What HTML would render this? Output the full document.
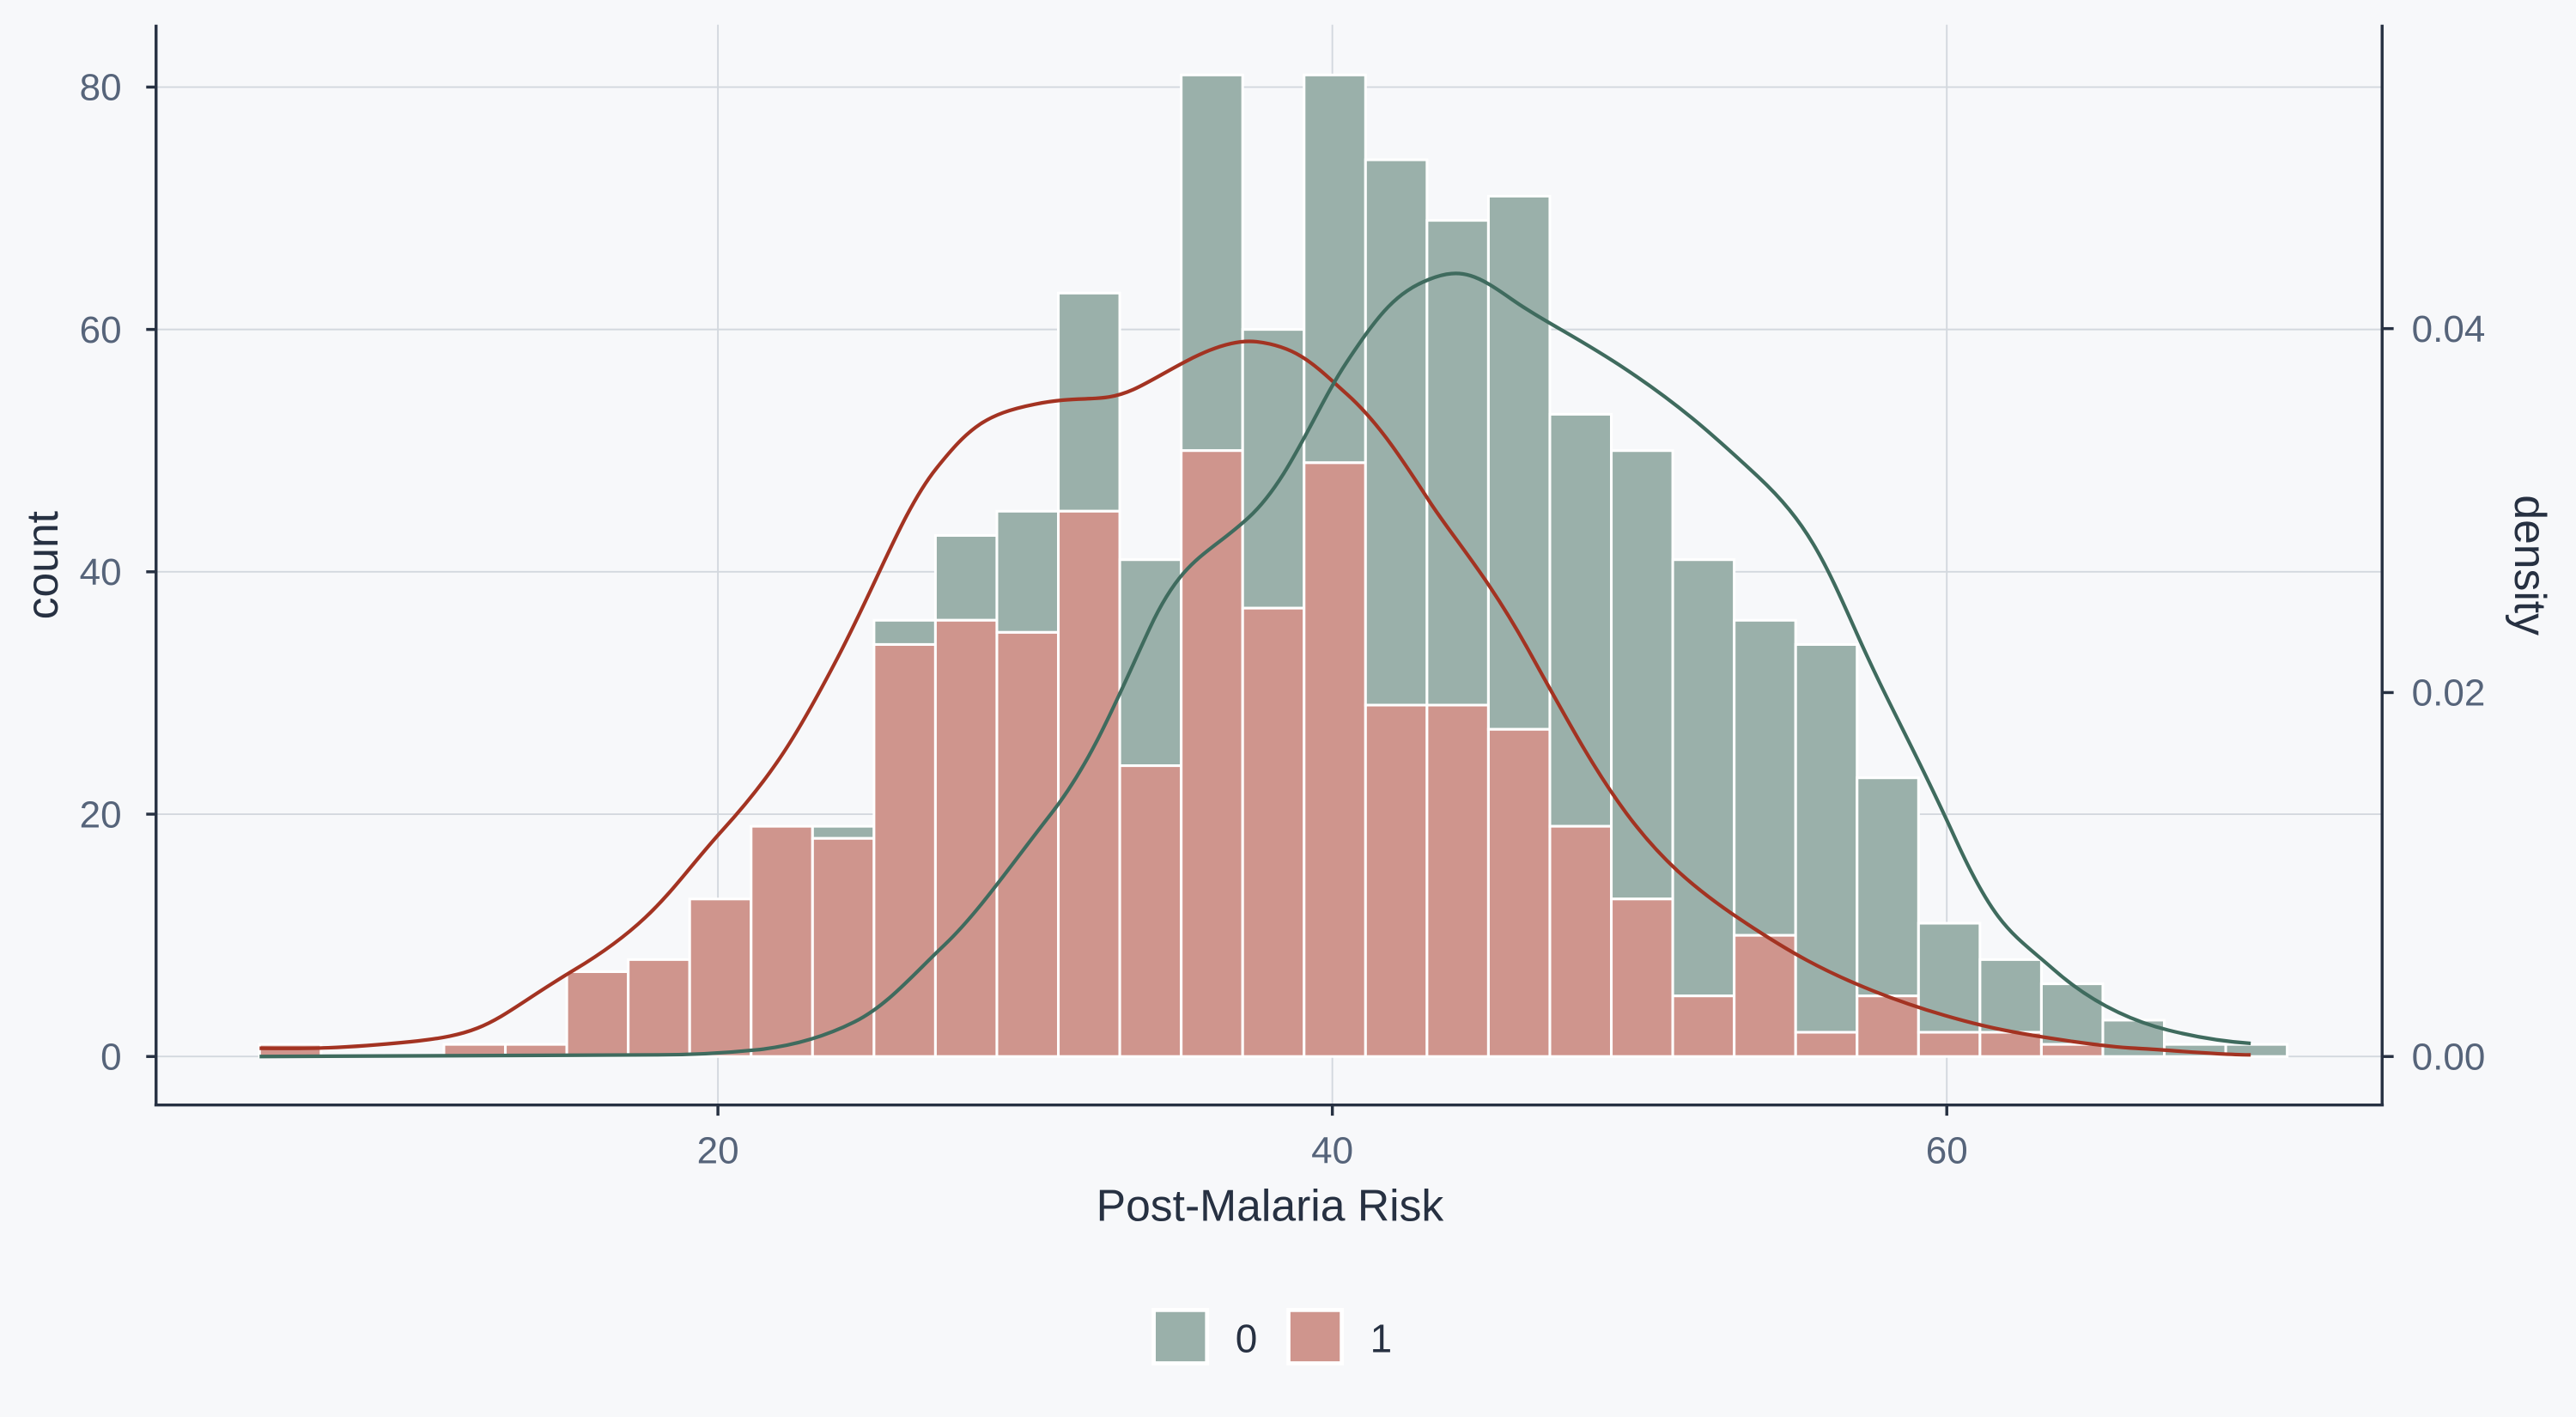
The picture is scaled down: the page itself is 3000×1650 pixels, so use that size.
<!DOCTYPE html>
<html><head><meta charset="utf-8"><style>
html,body{margin:0;padding:0;background:#f7f8fa;}
svg{display:block}
text{font-family:"Liberation Sans",Arial,sans-serif;}
</style></head><body>
<svg id="s" width="3000" height="1650" viewBox="0 0 1568 862.4" preserveAspectRatio="none" xmlns="http://www.w3.org/2000/svg">
<rect x="0" y="0" width="1568" height="862.4" fill="#f7f8fa"/>
<g stroke="#d3d8de" stroke-width="1">
<line x1="437" y1="15" x2="437" y2="672"/><line x1="811" y1="15" x2="811" y2="672"/><line x1="1185" y1="15" x2="1185" y2="672"/>
<line x1="95" y1="53" x2="1450" y2="53"/><line x1="95" y1="200.5" x2="1450" y2="200.5"/><line x1="95" y1="348" x2="1450" y2="348"/><line x1="95" y1="495.5" x2="1450" y2="495.5"/><line x1="95" y1="643" x2="1450" y2="643"/>
</g>
<g id="bars"></g>
<path fill="none" stroke="#a33322" stroke-width="2.2" stroke-linejoin="round" d="M158,638 C180,638 200,639 250,634 S300,620 350,590 S410,538 440,505 S485,448 510,400 S550,310 570,285 S600,252 630,246 S670,246 690,237 S740,205 765,208 S800,222 820,240 S855,282 870,305 S905,350 930,395 S970,468 990,495 S1030,540 1060,560 S1110,591 1140,603 S1200,623 1220,627 S1280,637 1300,638 S1350,642 1370,642"/>
<path fill="none" stroke="#3f6b5e" stroke-width="2.2" stroke-linejoin="round" d="M158,643 L400,642 C420,642 440,641 460,639 S500,632 520,622 S555,594 575,575 S615,527 640,495 S680,425 700,382 S735,338 760,315 S800,250 820,220 S850,178 870,170 S900,168 920,182 S960,205 990,225 S1040,262 1070,290 S1110,340 1130,385 S1165,455 1190,510 S1225,568 1250,590 S1300,622 1320,627 S1355,634 1370,635"/>
<g stroke="#273142" stroke-width="1.8" fill="none">
<line x1="95" y1="15" x2="95" y2="673"/><line x1="94" y1="672.5" x2="1451" y2="672.5"/><line x1="1450" y1="15" x2="1450" y2="673"/>
<line x1="89" y1="53" x2="95" y2="53"/><line x1="89" y1="200.5" x2="95" y2="200.5"/><line x1="89" y1="348" x2="95" y2="348"/><line x1="89" y1="495.5" x2="95" y2="495.5"/><line x1="89" y1="643" x2="95" y2="643"/>
<line x1="437" y1="672" x2="437" y2="679"/><line x1="811" y1="672" x2="811" y2="679"/><line x1="1185" y1="672" x2="1185" y2="679"/>
<line x1="1450" y1="200" x2="1457" y2="200"/><line x1="1450" y1="421.5" x2="1457" y2="421.5"/><line x1="1450" y1="643" x2="1457" y2="643"/>
</g>
<g fill="#56647a" font-size="23">
<text x="74" y="61" text-anchor="end">80</text><text x="74" y="208.5" text-anchor="end">60</text><text x="74" y="356" text-anchor="end">40</text><text x="74" y="503.5" text-anchor="end">20</text><text x="74" y="651" text-anchor="end">0</text>
<text x="437" y="708" text-anchor="middle">20</text><text x="811" y="708" text-anchor="middle">40</text><text x="1185" y="708" text-anchor="middle">60</text>
<text x="1468" y="208">0.04</text><text x="1468" y="429.5">0.02</text><text x="1468" y="651">0.00</text>
</g>
<g fill="#273142" font-size="27">
<text x="773" y="743" text-anchor="middle">Post-Malaria Risk</text>
<text transform="translate(35,344) rotate(-90)" text-anchor="middle">count</text>
<text transform="translate(1531,344) rotate(90)" text-anchor="middle">density</text>
</g>
<rect x="701" y="796" width="35" height="35" fill="#fff"/><rect x="703.5" y="798.5" width="30" height="30" fill="#9ab0aa"/>
<rect x="783" y="796" width="35" height="35" fill="#fff"/><rect x="785.5" y="798.5" width="30" height="30" fill="#cf958d"/>
<g fill="#273142" font-size="24"><text x="752" y="823">0</text><text x="834" y="823">1</text></g>
</svg>
<script>
var d=[[1,1],[0,0],[0,0],[1,1],[1,1],[7,7],[8,8],[13,13],[19,19],[19,18],[36,34],[43,36],[45,35],[63,45],[41,24],[81,50],[60,37],[81,49],[74,29],[69,29],[71,27],[53,19],[50,13],[41,5],[36,10],[34,2],[23,5],[11,2],[8,2],[6,1],[3,0],[1,0],[1,0]];
var g=document.getElementById('bars'),h='',s=7.375;
d.forEach(function(v,k){var x=158+37.4*k,t=v[0],r=v[1];
if(t-r>0)h+='<rect x="'+x+'" y="'+(643-s*t)+'" width="37.4" height="'+(s*(t-r))+'" fill="#9ab0aa" stroke="#fff" stroke-width="1.6"/>';
if(r>0)h+='<rect x="'+x+'" y="'+(643-s*r)+'" width="37.4" height="'+(s*r)+'" fill="#cf958d" stroke="#fff" stroke-width="1.6"/>';});
g.innerHTML=h;
</script>
</body></html>
